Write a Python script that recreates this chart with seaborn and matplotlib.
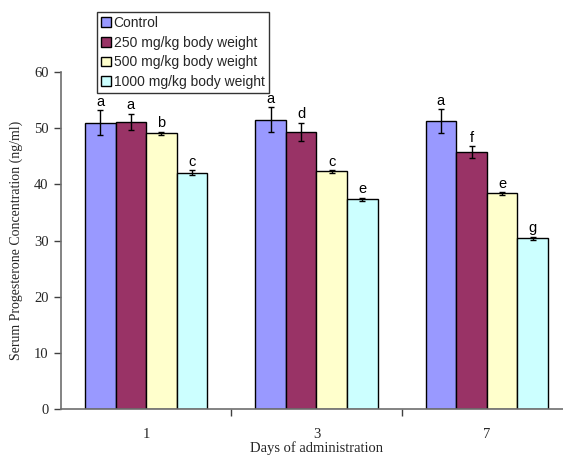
import matplotlib
matplotlib.use("Agg")
import matplotlib.pyplot as plt
import seaborn as sns
import pandas as pd
import numpy as np

days = ["1", "3", "7"]
groups = ["Control", "250 mg/kg body weight", "500 mg/kg body weight", "1000 mg/kg body weight"]
control = [51.0, 51.5, 51.3]
dose250 = [51.1, 49.4, 45.8]
dose500 = [49.1, 42.3, 38.4]
dose1000 = [42.1, 37.3, 30.4]
err_control = [2.2, 2.2, 2.1]
err250 = [1.5, 1.6, 1.05]
err500 = [0.3, 0.3, 0.3]
err1000 = [0.45, 0.35, 0.3]
letters_control = ["a", "a", "a"]
letters250 = ["a", "d", "f"]
letters500 = ["b", "c", "e"]
letters1000 = ["c", "e", "g"]
colors = ["#9999FF", "#993366", "#FFFFCC", "#CCFFFF"]

values = [control, dose250, dose500, dose1000]
errs = [err_control, err250, err500, err1000]
letters = [letters_control, letters250, letters500, letters1000]

rows = []
for g, vals in zip(groups, values):
    for d, v in zip(days, vals):
        rows.append({"Day": d, "Group": g, "Value": v})
df = pd.DataFrame(rows)

sns.set_style("white")
fig = plt.figure(figsize=(5.63, 4.57), dpi=100)
ax = fig.add_axes([61/563, 1-409/457, 511/563, 337/457])

sns.barplot(data=df, x="Day", y="Value", hue="Group", order=days, hue_order=groups,
            palette=colors, errorbar=None, width=0.72, edgecolor="black", linewidth=1.0,
            saturation=1, ax=ax, legend=True)

for cont, er, lt in zip(ax.containers, errs, letters):
    for bar, e, l in zip(cont, er, lt):
        x = bar.get_x() + bar.get_width()/2
        h = bar.get_height()
        ax.errorbar(x, h, yerr=e, fmt="none", ecolor="black", elinewidth=1.0,
                    capsize=2.5, capthick=1.0, zorder=5)
        ax.text(x, h + e + 0.2, l, ha="center", va="bottom", fontsize=10.5,
                family="Liberation Sans", color="black")

ax.set_xlim(-0.5, 2.5)
ax.set_ylim(0, 60)
ax.set_yticks(range(0, 61, 10))
ax.set_xticks([0, 1, 2])
ax.set_xticklabels(days)
ax.set_xticks([0.5, 1.5], minor=True)
ax.tick_params(axis="x", which="major", length=0, pad=14, labelsize=10.5)
ax.tick_params(axis="x", which="minor", length=5, width=1, color="#404040", direction="out", bottom=True)
ax.tick_params(axis="y", length=5, width=1, color="#404040", direction="out", pad=4, labelsize=10.5, left=True)
for lab in ax.get_xticklabels() + ax.get_yticklabels():
    lab.set_family("Liberation Serif")

for s in ["top", "right"]:
    ax.spines[s].set_visible(False)
for s in ["left", "bottom"]:
    ax.spines[s].set_color("#6e6e6e")
    ax.spines[s].set_linewidth(1.2)

ax.set_xlabel("Days of administration", family="Liberation Serif", fontsize=10.5, labelpad=0)
ax.set_ylabel("Serum Progesterone Concentration (ng/ml)", family="Liberation Serif", fontsize=10, labelpad=8)

handles, labels = ax.get_legend_handles_labels()
ax.legend_.remove()
leg = fig.legend(handles, labels, loc="upper left", bbox_to_anchor=(97/563, 1-12/457),
                 bbox_transform=fig.transFigure, borderaxespad=0, frameon=True, fancybox=False,
                 edgecolor="black", handlelength=0.7, handleheight=0.7, handletextpad=0.2,
                 labelspacing=0.4, borderpad=0.3, prop={"family": "Liberation Sans", "size": 10})
leg.get_frame().set_linewidth(1.0)

fig.savefig("out.png", dpi=100)
